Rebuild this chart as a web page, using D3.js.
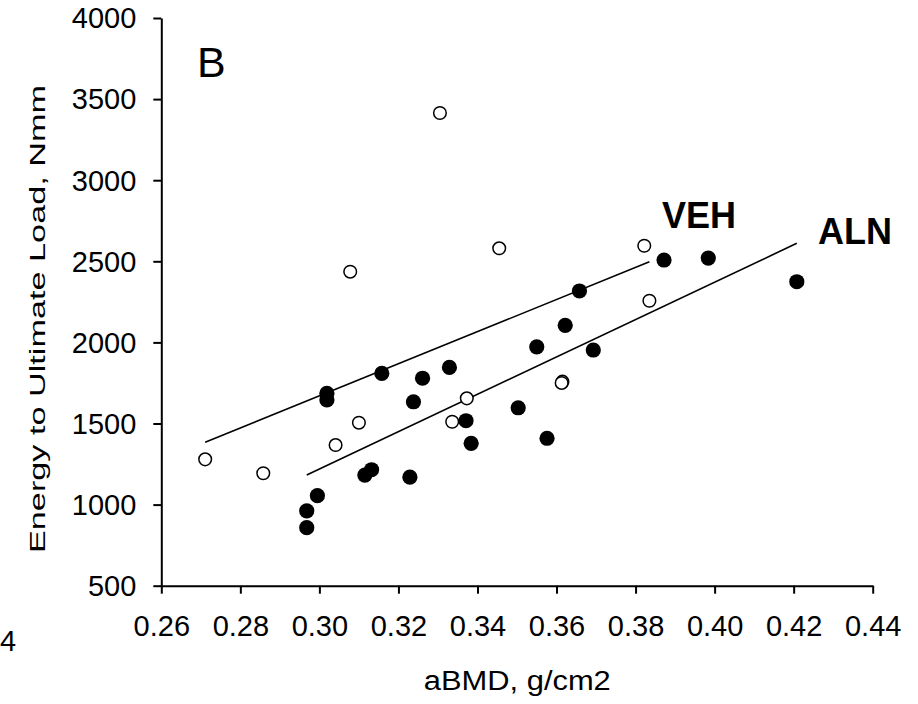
<!DOCTYPE html>
<html lang="en">
  <head>
    <meta charset="utf-8" />
    <title>Energy to Ultimate Load vs aBMD</title>
    <style>
      body { margin: 0; background: #fff; }
      svg text { font-family: "Liberation Sans", Arial, sans-serif; fill: #000; }
    </style>
  </head>
  <body>
    <div id="graph-display"></div>

    <script src="https://cdn.jsdelivr.net/npm/d3@7"></script>
    <script>
      // VEH (open circles)
      const vehX = [0.3078, 0.3100, 0.3041, 0.2711, 0.2858, 0.3336, 0.3373, 0.3615, 0.3613, 0.3835, 0.3822, 0.3455, 0.3305];
      const vehY = [2436, 1505, 1367, 1279, 1193, 1511, 1655, 1758, 1750, 2257, 2596, 2580, 3414];

      // ALN (filled circles)
      const alnX = [0.3158, 0.3019, 0.3019, 0.3261, 0.3238, 0.3329, 0.3115, 0.3132, 0.3229, 0.2995, 0.2968, 0.2968,
                    0.3872, 0.3984, 0.3658, 0.3622, 0.3550, 0.3693, 0.3371, 0.3503, 0.3384, 0.3576, 0.4208];
      const alnY = [1809, 1686, 1645, 1779, 1634, 1846, 1182, 1215, 1169, 1055, 961, 858,
                    2508, 2520, 2317, 2105, 1973, 1953, 1517, 1597, 1378, 1409, 2374];

      // regression lines (end points)
      const vehLine = [[0.2711, 1384], [0.3835, 2497]];
      const alnLine = [[0.2968, 1182], [0.4208, 2611]];

      const xTicks = [0.26, 0.28, 0.30, 0.32, 0.34, 0.36, 0.38, 0.40, 0.42, 0.44];
      const yTicks = [500, 1000, 1500, 2000, 2500, 3000, 3500, 4000];

      const initGraph = (width = 918, height = 704) => {
        let left = 161.3, right = 872.7, top = 18, bottom = 585.7;

        const x = d3.scaleLinear().domain([0.26, 0.44]).range([left, right]);
        const y = d3.scaleLinear().domain([500, 4000]).range([bottom, top]);

        const svg = d3
          .select("#graph-display")
          .append("svg")
          .attr("width", width)
          .attr("height", height);

        // axes
        const xAxis = svg
          .append("g")
          .attr("transform", `translate(0,${bottom})`)
          .call(d3.axisBottom(x).tickValues(xTicks).tickFormat(d3.format(".2f"))
            .tickSize(8).tickSizeOuter(0).tickPadding(22));

        const yAxis = svg
          .append("g")
          .attr("transform", `translate(${left},0)`)
          .call(d3.axisLeft(y).tickValues(yTicks).tickFormat(d3.format("d"))
            .tickSize(8).tickSizeOuter(0).tickPadding(17));

        [xAxis, yAxis].forEach((g) => {
          g.select(".domain").attr("stroke", "#000").attr("stroke-width", 2);
          g.selectAll(".tick line").attr("stroke", "#000").attr("stroke-width", 2);
          g.selectAll(".tick text")
            .attr("font-family", null)
            .style("font-size", "29px");
        });
        yAxis.selectAll(".tick text").attr("dy", "0.34em");

        // regression lines
        const line = d3.line().x((d) => x(d[0])).y((d) => y(d[1]));
        [vehLine, alnLine].forEach((l) => {
          svg.append("path")
            .attr("d", line(l))
            .attr("fill", "none")
            .attr("stroke", "#000")
            .attr("stroke-width", 1.6);
        });

        // open circles VEH
        svg.append("g")
          .selectAll("circle")
          .data(d3.zip(vehX, vehY))
          .enter()
          .append("circle")
          .attr("cx", (d) => x(d[0]))
          .attr("cy", (d) => y(d[1]))
          .attr("r", 6.3)
          .attr("fill", "#fff")
          .attr("stroke", "#000")
          .attr("stroke-width", 1.5);

        // filled circles ALN
        svg.append("g")
          .selectAll("circle")
          .data(d3.zip(alnX, alnY))
          .enter()
          .append("circle")
          .attr("cx", (d) => x(d[0]))
          .attr("cy", (d) => y(d[1]))
          .attr("r", 7.6)
          .attr("fill", "#000");

        // labels
        svg.append("text")
          .attr("x", 197).attr("y", 77)
          .style("font-size", "43px")
          .text("B");

        svg.append("text")
          .attr("x", 662).attr("y", 228)
          .style("font-size", "36px").style("font-weight", "bold")
          .text("VEH");

        svg.append("text")
          .attr("x", 818).attr("y", 244)
          .style("font-size", "36px").style("font-weight", "bold")
          .text("ALN");

        svg.append("text")
          .attr("x", 517.3).attr("y", 690)
          .attr("text-anchor", "middle")
          .attr("textLength", 187)
          .attr("lengthAdjust", "spacingAndGlyphs")
          .style("font-size", "27px")
          .text("aBMD, g/cm2");

        svg.append("text")
          .attr("transform", "translate(45,319) rotate(-90)")
          .attr("text-anchor", "middle")
          .attr("textLength", 468)
          .attr("lengthAdjust", "spacingAndGlyphs")
          .style("font-size", "22px")
          .text("Energy to Ultimate Load, Nmm");

        // small label at the left edge, kept fully inside the picture
        svg.append("text")
          .attr("x", 0).attr("y", 650.5)
          .style("font-size", "29px")
          .text("4");
      };

      window.addEventListener("DOMContentLoaded", function () {
        initGraph(918, 704);
      });
    </script>
  </body>
</html>
